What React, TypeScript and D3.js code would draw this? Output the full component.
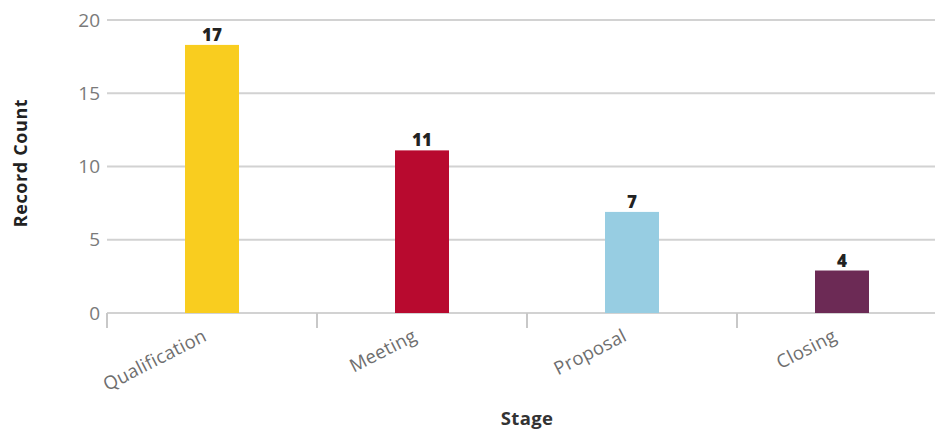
import React from "react";
import * as d3 from "d3";

const categories = ["Qualification", "Meeting", "Proposal", "Closing"];
const barValues = [18.3, 11.1, 6.9, 2.9];
const barLabels = ["17", "11", "7", "4"];
const colors = ["#F9CD1F", "#B80A2F", "#97CDE2", "#6C2A55"];
const yTicks = [0, 5, 10, 15, 20];

const W = 935;
const H = 432;
const left = 107;
const y0 = 313;
const yTop = 20;

export default function App() {
  const x = d3.scaleBand<string>().domain(categories).range([left, left + 840]).paddingInner(0).paddingOuter(0);
  const y = d3.scaleLinear().domain([0, 20]).range([y0, yTop]);
  const bw = 54;
  const font = "'Open Sans', Lato, sans-serif";
  return (
    <svg width={W} height={H} style={{ position: "absolute", left: 0, top: 0, background: "#fff" }} fontFamily={font}>
      {yTicks.map((t) => (
        <g key={t}>
          <line x1={left} x2={W} y1={y(t)} y2={y(t)} stroke="#d2d2d2" strokeWidth={2} />
          <text x={100} y={y(t)} dy="0.35em" textAnchor="end" fontSize={19} fill="#7a7a7a">
            {t}
          </text>
        </g>
      ))}
      {categories.map((c) => (
        <line key={"tk" + c} x1={x(c)!} x2={x(c)!} y1={y0} y2={y0 + 15} stroke="#c8c8c8" strokeWidth={2} />
      ))}
      {categories.map((c, i) => {
        const cx = x(c)! + x.bandwidth() / 2;
        return (
          <g key={c}>
            <rect x={cx - bw / 2} y={y(barValues[i])} width={bw} height={y0 - y(barValues[i])} fill={colors[i]} />
            <text x={cx} y={y(barValues[i]) - 4} textAnchor="middle" fontSize={17} fontWeight={800} fill="#222">
              {barLabels[i]}
            </text>
            <text
              transform={`translate(${cx - 4},${y0 + 27}) rotate(-27)`}
              textAnchor="end"
              fontSize={18.5}
              letterSpacing={0.3}
              fill="#6e6e6e"
            >
              {c}
            </text>
          </g>
        );
      })}
      <text transform={`translate(27,${163}) rotate(-90)`} textAnchor="middle" fontSize={18} letterSpacing={0.6} fontWeight={700} fill="#222">
        Record Count
      </text>
      <text x={527} y={425} textAnchor="middle" fontSize={18.5} letterSpacing={0.3} fontWeight={700} fill="#333">
        Stage
      </text>
    </svg>
  );
}
